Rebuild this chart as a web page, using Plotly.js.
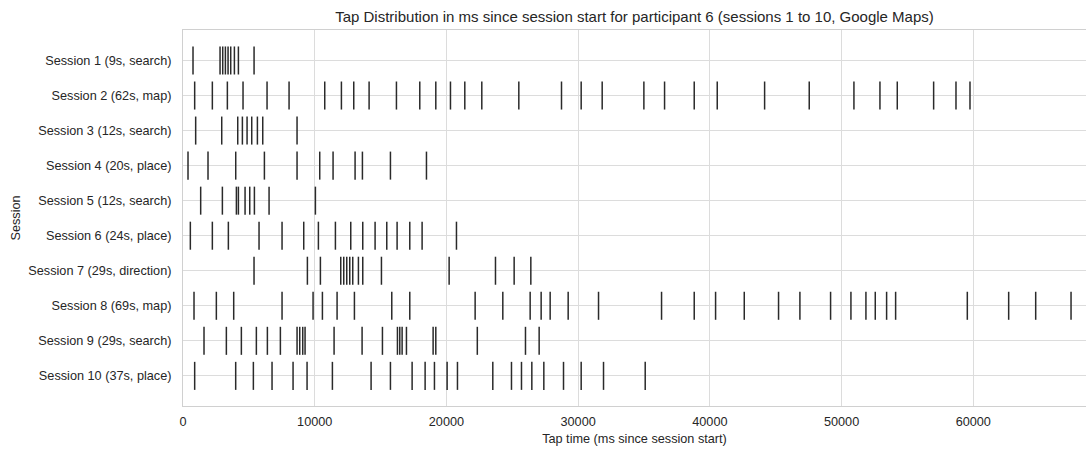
<!DOCTYPE html>
<html>
<head>
<meta charset="utf-8">
<script src="https://cdn.plot.ly/plotly-3.0.1.min.js"></script>
<style>html,body{margin:0;padding:0;background:#fff;}#chart{width:1086px;height:450px;}</style>
</head>
<body>
<div id="chart"></div>
<script>
const sessionLabels = [
  "Session 1 (9s, search)",
  "Session 2 (62s, map)",
  "Session 3 (12s, search)",
  "Session 4 (20s, place)",
  "Session 5 (12s, search)",
  "Session 6 (24s, place)",
  "Session 7 (29s, direction)",
  "Session 8 (69s, map)",
  "Session 9 (29s, search)",
  "Session 10 (37s, place)"
];

const s1 = [760, 2813, 3016, 3218, 3421, 3623, 3902, 4206, 5396];
const s2 = [886, 2228, 3368, 4558, 6381, 8052, 10761, 12027, 12964, 14129, 16205, 17977, 19193, 20307, 21395,
            22686, 25496, 28737, 30231, 31826, 34991, 36561, 38814, 40561, 44157,
            47546, 50939, 52914, 54230, 56990, 58687, 59750];
const s3 = [962, 2940, 4155, 4509, 4864, 5218, 5649, 6054, 8659];
const s4 = [380, 1899, 4003, 6180, 8659, 10381, 11394, 13065, 13622, 15749, 18484];
const s5 = [1342, 2990, 4054, 4206, 4712, 5067, 5421, 6535, 10052];
const s6 = [557, 2228, 3444, 5773, 7520, 9166, 10280, 11571, 12736, 13647, 14584, 15471, 16255, 17218, 18154, 20762];
const s7 = [5393, 9444, 10432, 11977, 12204, 12432, 12660, 12888, 13318, 13648, 15066, 20205, 23724, 25142, 26408];
const s8 = [836, 2532, 3849, 7520, 9875, 10584, 11698, 13015, 15850, 17218, 22180, 24281, 26357, 27192, 27876,
            29243, 31548, 36333, 38814, 40435, 42612, 45216, 46837, 49166, 50711, 51850, 52559, 53420, 54104,
            59547, 62687, 64738, 67422];
const s9 = [1595, 3292, 4431, 5570, 6406, 7393, 8660, 8862, 9090, 9267, 11470, 13597, 15142, 16281, 16458, 16636,
            16965, 18990, 19193, 22345, 26002, 27040];
const s10 = [886, 4000, 5343, 6760, 8356, 9419, 11343, 14280, 15749, 17395, 18382, 19091, 20053, 20838,
             23521, 24939, 25699, 26484, 27395, 28889, 30231, 31927, 35092];

const sessions = [s1, s2, s3, s4, s5, s6, s7, s8, s9, s10];
const xTickVals = [0, 10000, 20000, 30000, 40000, 50000, 60000];

const xs = [], ys = [];
const half = 0.4;
sessions.forEach((taps, i) => {
  taps.forEach(t => {
    xs.push(t, t, null);
    ys.push(i - half, i + half, null);
  });
});

const trace = {
  x: xs, y: ys, type: 'scatter', mode: 'lines',
  line: {color: '#2a2a2a', width: 1.5},
  hoverinfo: 'skip', showlegend: false
};

const fontFam = '"Liberation Sans", Arial, sans-serif';
const tickFont = {family: fontFam, size: 12.7, color: '#262626'};
const layout = {
  width: 1086, height: 450,
  margin: {l: 183, r: 0, t: 30, b: 44, pad: 0},
  paper_bgcolor: '#ffffff', plot_bgcolor: '#ffffff',
  font: {family: fontFam, size: 12.7, color: '#262626'},
  title: {
    text: 'Tap Distribution in ms since session start for participant 6 (sessions 1 to 10, Google Maps)',
    font: {family: fontFam, size: 15, color: '#262626'},
    x: 0.5, xref: 'paper', xanchor: 'center', y: 0.962, yref: 'container', yanchor: 'middle'
  },
  xaxis: {
    range: [0, 68558],
    tickvals: xTickVals,
    ticktext: xTickVals.map(String),
    showgrid: true, gridcolor: '#dcdcdc', gridwidth: 1,
    zeroline: false,
    showline: true, linecolor: '#d0d0d0', linewidth: 1, mirror: true,
    ticks: 'outside', ticklen: 4, tickcolor: 'rgba(0,0,0,0)',
    tickfont: tickFont,
    title: {text: 'Tap time (ms since session start)', font: tickFont, standoff: 5}
  },
  yaxis: {
    range: [9.86, -0.87],
    tickvals: sessionLabels.map((_, i) => i),
    ticktext: sessionLabels,
    showgrid: true, gridcolor: '#dcdcdc', gridwidth: 1,
    zeroline: false,
    showline: true, linecolor: '#d0d0d0', linewidth: 1, mirror: true,
    ticks: 'outside', ticklen: 8, tickcolor: 'rgba(0,0,0,0)',
    tickfont: tickFont,
    title: {text: 'Session', font: tickFont, standoff: 4}
  }
};

Plotly.newPlot('chart', [trace], layout, {displayModeBar: false, staticPlot: true});
</script>
</body>
</html>
